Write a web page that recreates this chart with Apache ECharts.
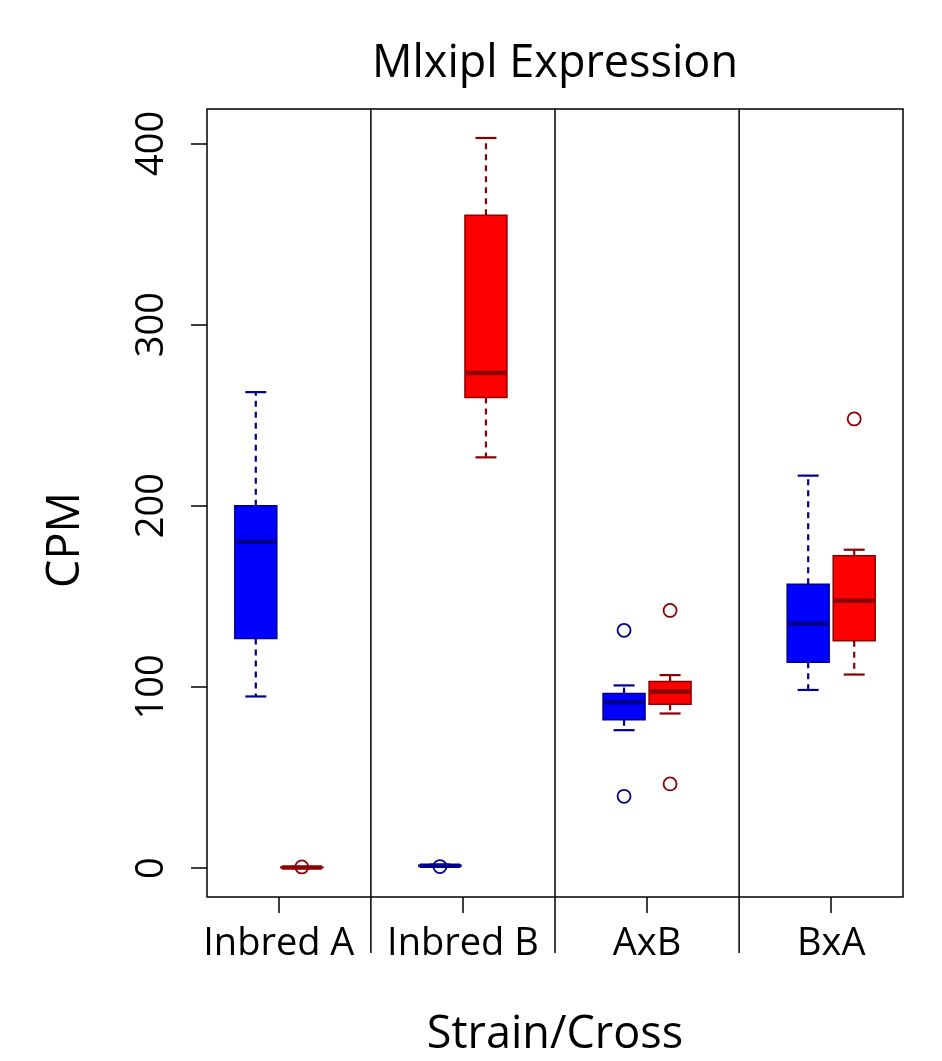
<!DOCTYPE html>
<html>
<head>
<meta charset="utf-8">
<script src="https://cdn.jsdelivr.net/npm/echarts@6/dist/echarts.min.js"></script>
<style>
html,body{margin:0;padding:0;background:#fff;}
#chart{width:942px;height:1061px;}
</style>
</head>
<body>
<div id="chart"></div>
<script>
// ---- data ----
var categories = ['Inbred A', 'Inbred B', 'AxB', 'BxA'];
// [lower whisker, Q1, median, Q3, upper whisker]
var blueStats = [
  [94.7, 126.7, 180.1, 200.0, 262.7],
  [0.7, 0.9, 1.2, 1.6, 1.9],
  [76.1, 81.8, 91.5, 96.3, 100.8],
  [98.3, 113.6, 135.0, 156.6, 216.6]
];
var redStats = [
  [0.0, 0.1, 0.3, 0.5, 0.6],
  [226.7, 259.7, 273.3, 360.4, 403.0],
  [85.3, 90.4, 97.5, 103.0, 106.5],
  [106.8, 125.4, 147.5, 172.4, 175.7]
];
// [category index, value]
var blueOutliers = [[1, 0.8], [2, 131.2], [2, 39.6]];
var redOutliers = [[0, 0.6], [2, 142.2], [2, 46.4], [3, 247.9]];
var yTicks = [0, 100, 200, 300, 400];

// ---- styling ----
var FONT = '"Open Sans", "Noto Sans", sans-serif';
var BLUE_FILL = '#0000FF', BLUE_LINE = '#00008B';
var RED_FILL = '#FF0000', RED_LINE = '#8B0000';
var OFFSET = 0.125, BOX_W = 0.228;

function boxData(stats) {
  return stats.map(function (s, i) { return [i + 1].concat(s); });
}
function outlierData(list, off) {
  return list.map(function (o) { return [o[0] + 1 + off, o[1]]; });
}
function makeBoxRender(off, fill, line) {
  return function (params, api) {
    var c = api.value(0) + off;
    var lo = api.value(1), q1 = api.value(2), med = api.value(3), q3 = api.value(4), hi = api.value(5);
    var pL = api.coord([c - BOX_W / 2, q3]);
    var pR = api.coord([c + BOX_W / 2, q1]);
    var cx = api.coord([c, med])[0];
    var capL = api.coord([c - BOX_W / 4, hi])[0];
    var capR = api.coord([c + BOX_W / 4, hi])[0];
    var yHi = api.coord([c, hi])[1], yLo = api.coord([c, lo])[1];
    var yMed = api.coord([c, med])[1];
    var dashed = {stroke: line, lineWidth: 2.2, lineDash: [6, 5]};
    var solid = {stroke: line, lineWidth: 2.2};
    return {
      type: 'group',
      children: [
        {type: 'line', shape: {x1: cx, y1: pL[1], x2: cx, y2: yHi}, style: dashed},
        {type: 'line', shape: {x1: cx, y1: pR[1], x2: cx, y2: yLo}, style: dashed},
        {type: 'line', shape: {x1: capL, y1: yHi, x2: capR, y2: yHi}, style: solid},
        {type: 'line', shape: {x1: capL, y1: yLo, x2: capR, y2: yLo}, style: solid},
        {type: 'rect', shape: {x: pL[0], y: pL[1], width: pR[0] - pL[0], height: Math.max(pR[1] - pL[1], 0.5)},
          style: {fill: fill, stroke: line, lineWidth: 1.5}},
        {type: 'line', shape: {x1: pL[0] + 1, y1: yMed, x2: pR[0] - 1, y2: yMed}, style: {stroke: line, lineWidth: 4.5}}
      ]
    };
  };
}

var separators = categories.slice(1).map(function (_, i) { return [i + 1.5]; });

var chart = echarts.init(document.getElementById('chart'), null, {renderer: 'canvas'});
chart.setOption({
  animation: false,
  backgroundColor: '#fff',
  grid: {left: 207, right: 39, top: 109, bottom: 164, show: true, borderColor: '#000', borderWidth: 1.5, backgroundColor: 'transparent'},
  xAxis: {
    type: 'value', min: 0.61, max: 4.39,
    axisLine: {show: false, onZero: false},
    splitLine: {show: false},
    axisTick: {show: true, inside: false, customValues: [1, 2, 3, 4], length: 16, lineStyle: {color: '#000', width: 1.5}},
    axisLabel: {
      customValues: [1, 2, 3, 4],
      formatter: function (v) { return categories[Math.round(v) - 1] || ''; },
      fontFamily: FONT, fontSize: 38, color: '#000', margin: 47, verticalAlign: 'middle'
    }
  },
  yAxis: {
    type: 'value', min: -16, max: 419,
    axisLine: {show: false, onZero: false},
    splitLine: {show: false},
    axisTick: {show: true, inside: false, customValues: yTicks, length: 16, lineStyle: {color: '#000', width: 1.5}},
    axisLabel: {
      customValues: yTicks, rotate: 90,
      fontFamily: FONT, fontSize: 38, color: '#000', margin: 55, verticalAlign: 'middle', align: 'center'
    }
  },
  graphic: [
    {type: 'text', x: 555, y: 64, style: {text: 'Mlxipl Expression', font: '45px ' + FONT, fill: '#000', align: 'center', verticalAlign: 'middle'}},
    {type: 'text', x: 555, y: 1035, style: {text: 'Strain/Cross', font: '45px ' + FONT, fill: '#000', align: 'center', verticalAlign: 'middle'}},
    {type: 'text', x: 66, y: 540, rotation: Math.PI / 2, style: {text: 'CPM', font: '45px ' + FONT, fill: '#000', align: 'center', verticalAlign: 'middle'}}
  ],
  series: [
    {
      type: 'custom', name: 'separators', data: separators, clip: false, silent: true,
      renderItem: function (params, api) {
        var top = api.coord([api.value(0), 419]);
        var bot = api.coord([api.value(0), -16]);
        return {type: 'line', shape: {x1: top[0], y1: top[1], x2: bot[0], y2: bot[1] + 56}, style: {stroke: '#000', lineWidth: 1.5}};
      }
    },
    {type: 'custom', name: 'blue', data: boxData(blueStats), renderItem: makeBoxRender(-OFFSET, BLUE_FILL, BLUE_LINE), clip: false, z: 3},
    {type: 'custom', name: 'red', data: boxData(redStats), renderItem: makeBoxRender(OFFSET, RED_FILL, RED_LINE), clip: false, z: 3},
    {type: 'scatter', name: 'blue outliers', data: outlierData(blueOutliers, -OFFSET), symbol: 'circle', symbolSize: 13,
      itemStyle: {color: 'rgba(0,0,0,0)', borderColor: BLUE_LINE, borderWidth: 1.8, opacity: 1}, z: 4},
    {type: 'scatter', name: 'red outliers', data: outlierData(redOutliers, OFFSET), symbol: 'circle', symbolSize: 13,
      itemStyle: {color: 'rgba(0,0,0,0)', borderColor: RED_LINE, borderWidth: 1.8, opacity: 1}, z: 4}
  ]
});
</script>
</body>
</html>
